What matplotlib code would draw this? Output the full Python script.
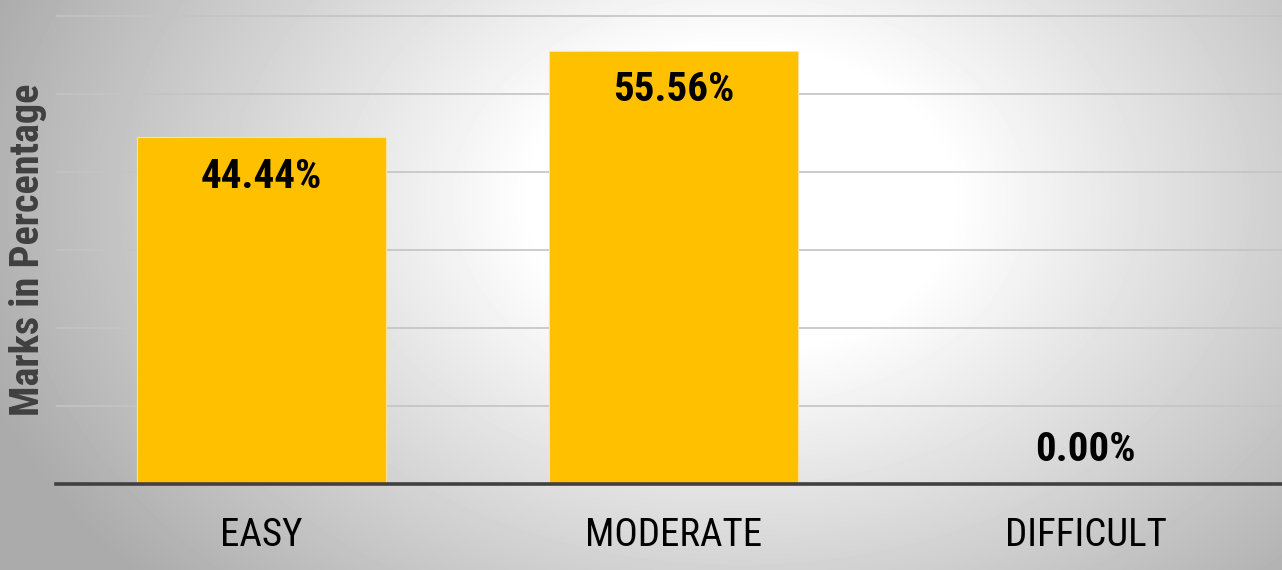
import matplotlib
matplotlib.use('Agg')
import matplotlib.pyplot as plt
import numpy as np
from matplotlib import font_manager

categories = ['EASY', 'MODERATE', 'DIFFICULT']
marks = [44.44, 55.56, 0.00]

# pick a condensed face if there is one
installed = {f.name for f in font_manager.fontManager.ttflist}
family = 'DejaVu Sans'
for name in ['Roboto Condensed', 'Liberation Sans Narrow', 'Roboto', 'Liberation Sans']:
    if name in installed:
        family = name
        break
plt.rcParams['font.family'] = [family, 'DejaVu Sans']

W, H = 1282, 570
fig = plt.figure(figsize=(W / 100, H / 100), dpi=100)

# radial grey background
bg = fig.add_axes([0, 0, 1, 1], zorder=-10)
xx, yy = np.meshgrid(np.arange(W), np.arange(H))
d = np.sqrt(((xx - 740) / 700.0) ** 2 + ((yy - 200) / 500.0) ** 2)
shade = 255 - np.clip((d - 0.3) / 0.7, 0, 1.2) * 70
bg.imshow(shade, cmap='gray', vmin=0, vmax=255, aspect='auto')
bg.axis('off')

ax = fig.add_axes([56 / W, 86 / H, 1226 / W, 483.6 / H])
ax.patch.set_alpha(0)
x = np.arange(len(categories))
ax.bar(x, marks, 0.604, color='#FFC000', edgecolor='#FFE39A', linewidth=0.8, zorder=3)

ax.set_xlim(-0.499, 2.477)
ax.set_ylim(0, 62)
ax.set_yticks(np.arange(10, 61, 10))
ax.grid(axis='y', color='#c4c4c4', linewidth=1.2, zorder=1)
ax.tick_params(axis='y', length=0, labelleft=False)
ax.set_xticks(x)
ax.set_xticklabels(categories, fontsize=28)
ax.tick_params(axis='x', length=0, pad=24)
for s in ['top', 'right', 'left']:
    ax.spines[s].set_visible(False)
ax.spines['bottom'].set_color('#404040')
ax.spines['bottom'].set_linewidth(2.6)
ax.spines['bottom'].set_zorder(4)

for xi, v in zip(x, marks):
    y = v - 5.1 if v > 10 else v + 4.4
    ax.text(xi, y, f'{v:.2f}%', ha='center', va='center', fontsize=29.5,
            fontweight='bold', zorder=5)

fig.text(28 / W, 1 - 250 / H, 'Marks in Percentage', rotation=90, ha='center',
         va='center', fontsize=29, fontweight='bold', color='#404040')

fig.savefig('out.png', dpi=100)
